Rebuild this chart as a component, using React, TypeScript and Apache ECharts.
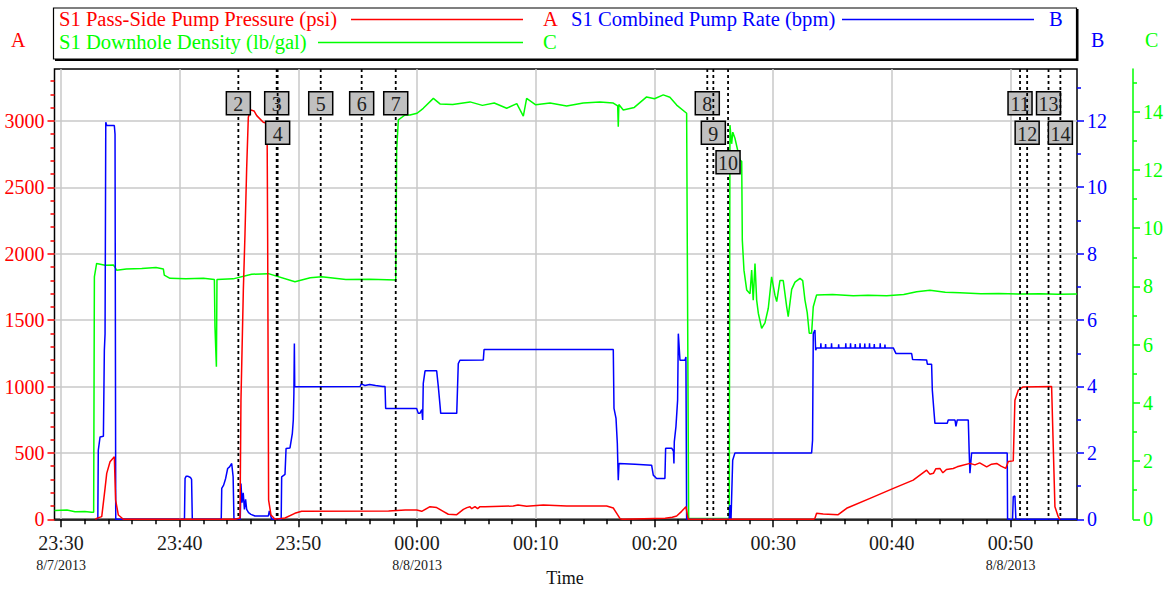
import React, { useEffect, useRef } from "react";
import * as echarts from "echarts";

// ---- axes ----
const X_MIN = -0.55; // minutes after 23:30
const X_MAX = 85.6;
const A_MAX = 3391;
const B_MAX = 13.56;
const C_MAX = 15.47;

const xMajor = [0, 10, 20, 30, 40, 50, 60, 70, 80];
const xTimeLabels = ["23:30", "23:40", "23:50", "00:00", "00:10", "00:20", "00:30", "00:40", "00:50"];
const xDateLabels = ["8/7/2013", "", "", "8/8/2013", "", "", "", "", "8/8/2013"];
const aMajor = [0, 500, 1000, 1500, 2000, 2500, 3000];
const bMajor = [0, 2, 4, 6, 8, 10, 12];
const cMajor = [0, 2, 4, 6, 8, 10, 12, 14];

// ---- series (x = minutes after 23:30) ----
const pressure: number[][] = [
  [2.9, 0], [3.0, 7], [3.43, 20], [3.71, 233], [3.85, 346], [4.13, 433], [4.49, 471], [4.6, 145], [4.83, 32], [5.25, 0],
  [14.66, 0], [15.08, 10], [15.16, 897], [15.36, 1724], [15.5, 2150], [15.64, 2639], [15.78, 3027], [15.98, 3083],
  [16.26, 3075], [16.49, 3040], [17.04, 2990], [17.36, 2982], [17.41, 2100], [17.49, 145], [17.69, 32], [18.03, 0],
  [18.87, 10], [19.7, 45], [20.27, 60], [27.6, 62], [29.0, 70], [29.97, 70], [30.39, 60], [31.09, 95], [31.65, 88],
  [32.2, 60], [32.63, 38], [33.34, 35], [33.9, 75], [34.2, 88], [34.46, 95], [34.6, 80], [34.88, 95], [35.1, 80],
  [35.3, 95], [35.72, 95], [38.1, 100], [38.5, 108], [39.23, 98], [40.63, 108], [42.6, 100], [45.97, 100],
  [46.53, 85], [46.82, 45], [47.1, 5], [47.3, 0],
  [50.9, 8], [51.5, 15], [51.87, 25], [52.29, 60], [52.65, 95], [52.84, 0],
  [63.4, 0], [63.52, 8], [63.66, 45], [64.22, 40], [65.48, 35], [66.19, 83], [68.16, 158], [70.13, 233], [71.8, 295],
  [72.93, 370], [73.2, 340], [73.5, 346], [73.7, 380], [74.05, 383], [74.3, 350], [74.6, 375], [75.17, 383],
  [75.5, 395], [75.9, 405], [76.58, 421], [77.0, 410], [77.4, 425], [77.99, 395], [78.4, 415], [78.83, 421],
  [79.2, 400], [79.6, 383], [79.81, 435], [80.23, 440], [80.37, 897], [80.65, 972], [81.07, 997], [83.46, 1000],
  [83.6, 546], [83.74, 95], [84.02, 20], [84.16, 0],
];

const rate: number[][] = [
  [3.1, 0], [3.14, 2.08], [3.29, 2.48], [3.57, 2.5], [3.65, 5.09], [3.71, 5.59], [3.77, 11.96], [3.85, 11.86],
  [4.49, 11.86], [4.55, 11.6], [4.61, 0],
  [10.4, 0], [10.45, 1.23], [10.55, 1.3], [10.67, 1.3], [10.9, 1.26], [11.0, 1.2], [11.06, 0],
  [13.5, 0], [13.54, 0.93], [13.7, 1.03], [13.87, 1.23], [14.04, 1.53], [14.2, 1.58], [14.38, 1.68], [14.5, 1.28], [14.57, 0],
  [15.1, 0], [15.16, 1.08], [15.25, 0.5], [15.35, 0.8], [15.45, 0.3], [15.55, 0.6], [15.64, 0.3], [15.8, 0.2],
  [16.0, 0.15], [16.34, 0.1], [17.0, 0.1], [17.47, 0.1], [17.55, 0.25], [17.75, 0],
  [18.55, 0], [18.59, 1.28], [18.87, 1.35], [18.96, 2.13], [19.29, 2.15], [19.49, 2.59], [19.57, 2.99], [19.62, 3.79],
  [19.66, 5.29], [19.69, 3.99], [19.71, 4.0], [25.2, 4.0], [25.3, 4.08], [25.6, 4.03], [26.0, 4.06], [26.5, 4.03],
  [27.1, 4.0], [27.3, 4.0], [27.35, 3.34], [29.96, 3.34], [30.1, 3.19], [30.24, 3.19], [30.4, 3.3], [30.47, 2.99],
  [30.52, 4.09], [30.67, 4.47], [31.65, 4.47], [31.79, 3.99], [31.93, 3.44], [31.99, 3.19], [33.34, 3.19],
  [33.47, 4.69], [33.61, 4.79], [35.58, 4.8], [35.64, 5.11], [46.53, 5.11], [46.59, 3.34], [46.76, 3.04],
  [46.87, 2.29], [46.95, 1.18], [47.01, 1.68], [48.36, 1.66], [49.76, 1.63], [49.9, 1.33], [50.18, 1.23],
  [50.88, 1.23], [50.94, 2.14], [51.45, 2.14], [51.6, 2.05], [51.64, 1.68], [51.67, 2.33], [51.81, 2.79],
  [51.95, 3.59], [52.01, 5.59], [52.15, 4.79], [52.57, 4.79], [52.65, 4.89], [52.71, 0],
  [56.3, 0], [56.36, 0.43], [56.45, 0], [56.5, 0], [56.59, 1.78], [56.78, 2.0], [63.24, 2.0], [63.32, 2.38],
  [63.38, 5.59], [63.52, 5.7], [63.58, 5.09], [63.66, 5.16],
  [64.0, 5.16], [64.02, 5.3], [64.04, 5.16], [64.4, 5.16], [64.42, 5.28], [64.44, 5.16], [64.9, 5.16], [64.92, 5.3],
  [64.94, 5.16], [65.5, 5.16], [65.52, 5.27], [65.54, 5.16], [66.1, 5.16], [66.12, 5.3], [66.14, 5.16], [66.5, 5.16],
  [66.52, 5.3], [66.54, 5.16], [66.9, 5.16], [66.92, 5.28], [66.94, 5.16], [67.3, 5.16], [67.32, 5.3], [67.34, 5.16],
  [67.7, 5.16], [67.72, 5.29], [67.74, 5.16], [68.1, 5.16], [68.12, 5.3], [68.14, 5.16], [68.5, 5.16], [68.52, 5.28],
  [68.54, 5.16], [69.0, 5.16], [69.02, 5.3], [69.04, 5.16], [69.4, 5.16], [69.42, 5.26], [69.44, 5.16],
  [70.12, 5.16], [70.35, 4.99], [71.67, 4.99], [71.75, 4.81], [72.93, 4.8], [72.99, 4.67], [73.35, 4.67],
  [73.41, 3.89], [73.55, 3.24], [73.63, 2.89], [74.67, 2.89], [74.75, 2.99], [75.32, 2.99], [75.4, 2.8],
  [75.51, 2.99], [76.44, 2.99], [76.52, 1.98], [76.58, 1.39], [76.72, 2.0], [79.72, 2.0], [79.75, 0],
  [80.17, 0], [80.23, 0.68], [80.37, 0.7], [80.45, 0], [85.6, 0],
];

const density: number[][] = [
  [-0.55, 0.3], [0.5, 0.32], [1.18, 0.26], [2.0, 0.27], [2.58, 0.24], [2.75, 0.24], [2.81, 8.33], [3.0, 8.79],
  [3.71, 8.73], [4.41, 8.74], [4.69, 8.56], [5.5, 8.6], [6.8, 8.62], [8.0, 8.65], [8.62, 8.6], [8.7, 8.39],
  [9.18, 8.28], [10.5, 8.26], [12.0, 8.28], [12.92, 8.24], [12.97, 6.62], [13.09, 5.24], [13.14, 8.24],
  [14.5, 8.26], [16.06, 8.42], [17.47, 8.44], [19.71, 8.16], [21.0, 8.3], [21.96, 8.33], [24.0, 8.24],
  [26.0, 8.25], [28.2, 8.22], [28.28, 12.69], [28.42, 13.72], [28.98, 13.89], [29.4, 13.89], [30.0, 13.95],
  [30.52, 14.12], [31.37, 14.46], [31.93, 14.27], [33.0, 14.25], [34.46, 14.34], [35.5, 14.22], [36.5, 14.3],
  [37.55, 14.12], [38.4, 14.28], [38.95, 13.85], [39.23, 14.46], [40.0, 14.24], [41.2, 14.3], [42.6, 14.2],
  [44.0, 14.3], [45.4, 14.34], [46.53, 14.3], [46.9, 14.2], [46.95, 13.49], [47.0, 14.25], [47.37, 14.06],
  [48.3, 14.15], [49.34, 14.51], [50.0, 14.45], [50.74, 14.58], [51.3, 14.5], [51.87, 14.23], [52.71, 13.95],
  [52.88, 0.03], [56.3, 0.03], [56.36, 13.54], [56.5, 12.9], [56.6, 13.3], [56.78, 13.09], [57.2, 12.34],
  [57.35, 12.3], [57.4, 9.6], [57.54, 8.56], [57.77, 7.88], [58.05, 7.75], [58.19, 8.56], [58.32, 7.53],
  [58.47, 8.79], [58.61, 7.53], [58.75, 7.08], [59.03, 6.56], [59.31, 6.75], [59.59, 7.25], [59.87, 8.33],
  [60.15, 7.7], [60.3, 7.48], [60.57, 8.2], [60.85, 8.2], [61.14, 7.3], [61.27, 6.96], [61.56, 7.9], [61.84, 8.15],
  [62.26, 8.28], [62.49, 8.2], [62.68, 7.53], [62.87, 7.1], [63.04, 6.39], [63.24, 6.39], [63.38, 7.3],
  [63.66, 7.71], [65.0, 7.72], [66.75, 7.68], [68.0, 7.7], [69.56, 7.68], [71.0, 7.72], [72.09, 7.82],
  [73.21, 7.87], [74.5, 7.8], [75.74, 7.78], [77.5, 7.75], [79.0, 7.76], [80.79, 7.74], [82.5, 7.75],
  [84.0, 7.73], [85.6, 7.74],
];

// event markers
const markerTimes = [14.94, 18.17, 18.25, 21.88, 25.33, 28.2, 54.45, 54.96, 56.2, 80.8, 81.4, 83.2, 84.2];
const markerRows = [0, 0, 1, 0, 0, 0, 0, 1, 2, 0, 1, 0, 1];
const markerLabels = ["2", "3", "4", "5", "6", "7", "8", "9", "10", "11", "12", "13", "14"];

const seriesNames = [
  "S1 Pass-Side Pump Pressure (psi)",
  "S1 Combined Pump Rate (bpm)",
  "S1 Downhole Density (lb/gal)",
];

const RED = "#ff0000";
const BLUE = "#0000ff";
const GREEN = "#00ff00";
const FONT = '"Liberation Serif", "Times New Roman", serif';

function minorList(max: number, step: number, majorStep: number): number[] {
  const out: number[] = [];
  for (let v = step; v <= max + 1e-9; v += step) {
    const r = Math.round(v * 1000) / 1000;
    if (Math.abs(r / majorStep - Math.round(r / majorStep)) > 1e-6) out.push(r);
  }
  return out;
}

export default function App() {
  const ref = useRef<HTMLDivElement>(null);
  useEffect(() => {
    if (!ref.current) return;
    const chart = echarts.init(ref.current, undefined, { renderer: "svg" });

    const xMinor = minorList(X_MAX, 2, 10);
    const aMinor = minorList(A_MAX, 100, 500);
    const bMinor = minorList(B_MAX, 1, 2);
    const cMinor = minorList(C_MAX, 1, 2);

    const yAx = (
      pos: string,
      max: number,
      major: number[],
      minor: number[],
      color: string,
      offset: number,
      showLine: boolean,
      split: boolean
    ) => [
      {
        type: "value",
        position: pos,
        offset,
        min: 0,
        max,
        axisLine: { show: showLine, onZero: false, lineStyle: { color, width: 1.5 } },
        axisTick: { show: true, customValues: major, length: 7, lineStyle: { color, width: 1.5 } },
        axisLabel: {
          customValues: major,
          color,
          fontFamily: FONT,
          fontSize: 20,
          margin: 10,
          formatter: (v: number) => String(v),
        },
        splitLine: { show: split, lineStyle: { color: "#c8c8c8", width: 1.5 } },
      },
      {
        type: "value",
        position: pos,
        offset,
        min: 0,
        max,
        axisLine: { show: false, onZero: false },
        axisTick: { show: true, customValues: minor, length: 4, lineStyle: { color, width: 1.5 } },
        axisLabel: { show: false },
        splitLine: { show: false },
      },
    ];

    const legendText = (x: number, y: number, text: string, fill: string) => ({
      type: "text",
      x,
      y,
      scaleX: 1.03,
      style: { text, font: `20px ${FONT}`, fill, verticalAlign: "middle" },
      z: 2,
    });

    const option: any = {
      animation: false,
      backgroundColor: "#ffffff",
      textStyle: { fontFamily: FONT },
      grid: {
        left: 54.5,
        right: 93,
        top: 69,
        bottom: 71.7,
        show: true,
        borderColor: "#000",
        borderWidth: 1.5,
        backgroundColor: "transparent",
        containLabel: false,
        outerBoundsMode: "none",
      },
      xAxis: [
        {
          type: "value",
          min: X_MIN,
          max: X_MAX,
          position: "bottom",
          axisLine: { show: true, onZero: false, lineStyle: { color: "#000", width: 1.5 } },
          axisTick: { show: true, customValues: xMajor, length: 8, lineStyle: { color: "#000", width: 1.5 } },
          axisLabel: {
            customValues: xMajor,
            margin: 12,
            formatter: (v: number) => {
              const i = xMajor.indexOf(Math.round(v));
              if (i < 0) return "";
              const d = xDateLabels[i];
              return d ? `{t|${xTimeLabels[i]}}\n{d|${d}}` : `{t|${xTimeLabels[i]}}`;
            },
            rich: {
              t: { fontFamily: FONT, fontSize: 20, color: "#1a1a1a", lineHeight: 24 },
              d: { fontFamily: FONT, fontSize: 14, color: "#1a1a1a", lineHeight: 20 },
            },
          },
          splitLine: { show: true, lineStyle: { color: "#c8c8c8", width: 1.5 } },
        },
        {
          type: "value",
          min: X_MIN,
          max: X_MAX,
          position: "bottom",
          axisLine: { show: false, onZero: false },
          axisTick: { show: true, customValues: xMinor, length: 5, lineStyle: { color: "#000", width: 1.5 } },
          axisLabel: { show: false },
          splitLine: { show: false },
        },
      ],
      yAxis: [
        ...yAx("left", A_MAX, aMajor, aMinor, RED, 0, false, true),
        ...yAx("right", B_MAX, bMajor, bMinor, BLUE, 0, false, false),
        ...yAx("right", C_MAX, cMajor, cMinor, GREEN, 56, true, false),
      ],
      graphic: [
        // legend box
        {
          type: "rect",
          shape: { x: 53.5, y: 8, width: 1023, height: 51 },
          style: { fill: "#fff", stroke: "#000", lineWidth: 1.2 },
          z: 1,
        },
        {
          type: "polyline",
          shape: { points: [[1077.5, 9], [1077.5, 60], [55, 60]] },
          style: { stroke: "#000", lineWidth: 2, fill: null },
          z: 1,
        },
        legendText(59, 19, seriesNames[0], RED),
        { type: "line", shape: { x1: 351, y1: 19.5, x2: 523, y2: 19.5 }, style: { stroke: RED, lineWidth: 1.5 }, z: 2 },
        legendText(543, 19, "A", RED),
        legendText(571, 19, seriesNames[1], BLUE),
        { type: "line", shape: { x1: 842, y1: 19.5, x2: 1034, y2: 19.5 }, style: { stroke: BLUE, lineWidth: 1.5 }, z: 2 },
        legendText(1049, 19, "B", BLUE),
        legendText(59, 42, seriesNames[2], GREEN),
        { type: "line", shape: { x1: 318, y1: 42.5, x2: 523, y2: 42.5 }, style: { stroke: GREEN, lineWidth: 1.5 }, z: 2 },
        legendText(543, 42, "C", GREEN),
        // axis letters
        { type: "text", x: 11, y: 40, style: { text: "A", font: `20px ${FONT}`, fill: RED, verticalAlign: "middle" } },
        { type: "text", x: 1091, y: 40, style: { text: "B", font: `20px ${FONT}`, fill: BLUE, verticalAlign: "middle" } },
        { type: "text", x: 1145, y: 40, style: { text: "C", font: `20px ${FONT}`, fill: GREEN, verticalAlign: "middle" } },
        // x axis title
        {
          type: "text",
          x: 565,
          y: 578,
          style: { text: "Time", font: `18px ${FONT}`, fill: "#111", align: "center", verticalAlign: "middle" },
        },
      ],
      series: [
        {
          name: seriesNames[2],
          type: "line",
          data: density,
          xAxisIndex: 0,
          yAxisIndex: 4,
          symbol: "none",
          lineStyle: { color: GREEN, width: 1.5 },
          z: 2,
        },
        {
          name: seriesNames[1],
          type: "line",
          data: rate,
          xAxisIndex: 0,
          yAxisIndex: 2,
          symbol: "none",
          lineStyle: { color: BLUE, width: 1.5 },
          z: 3,
        },
        {
          name: seriesNames[0],
          type: "line",
          data: pressure,
          xAxisIndex: 0,
          yAxisIndex: 0,
          symbol: "none",
          lineStyle: { color: RED, width: 1.5 },
          z: 4,
        },
        {
          type: "custom",
          xAxisIndex: 0,
          yAxisIndex: 0,
          z: 10,
          clip: false,
          data: markerTimes.map((t, i) => [t, markerRows[i]]),
          renderItem: (params: any, api: any) => {
            const t = api.value(0);
            const row = api.value(1);
            const x = api.coord([t, 0])[0];
            const cs = params.coordSys;
            const top = cs.y;
            const bottom = cs.y + cs.height;
            const bw = 24;
            const bh = 23;
            const by = top + 22.7 + row * 29.5;
            return {
              type: "group",
              children: [
                {
                  type: "line",
                  shape: { x1: x, y1: top, x2: x, y2: bottom },
                  style: { stroke: "#000", lineWidth: 1.8, lineDash: [3, 3] },
                },
                {
                  type: "rect",
                  shape: { x: x - bw / 2, y: by, width: bw, height: bh },
                  style: { fill: "#c0c0c0", stroke: "#000", lineWidth: 1.5 },
                },
                {
                  type: "text",
                  style: {
                    text: markerLabels[params.dataIndex],
                    x,
                    y: by + bh / 2 + 1,
                    align: "center",
                    verticalAlign: "middle",
                    font: `20px ${FONT}`,
                    fill: "#222",
                  },
                },
              ],
            };
          },
        },
      ],
    };
    chart.setOption(option);
    return () => chart.dispose();
  }, []);
  return (
    <div
      ref={ref}
      style={{ position: "absolute", left: 0, top: 0, width: 1170, height: 591, background: "#fff" }}
    />
  );
}
